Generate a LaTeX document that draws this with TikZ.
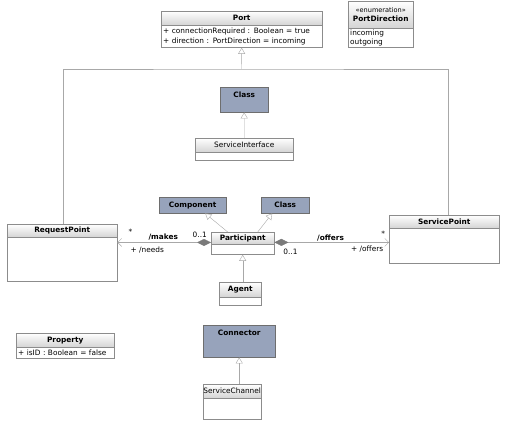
\documentclass[tikz,border=0pt]{standalone}
\usepackage{fontspec}
\setmainfont{DejaVu Sans}
\usepackage{tikz}
\usetikzlibrary{arrows.meta}
\definecolor{linegray}{HTML}{A8A8A8}
\definecolor{boxgray}{HTML}{8C8C8C}
\definecolor{hdrgray}{HTML}{D4D4D4}
\definecolor{darkfill}{HTML}{97A3BB}
\definecolor{darkedge}{HTML}{6E6E6E}
\definecolor{diagray}{HTML}{7A7A7A}
\newcommand\umlfont{\fontsize{7.4}{9.6}\selectfont}
\tikzset{
  hdr/.style={draw=boxgray, top color=white, bottom color=hdrgray, anchor=north west,
    inner sep=0pt, font=\umlfont\bfseries, align=center},
  bdy/.style={draw=boxgray, fill=white, anchor=north west, inner xsep=2bp, inner ysep=0.5bp,
    font=\umlfont, align=left},
  dark/.style={draw=darkedge, fill=darkfill, anchor=north west, inner xsep=0pt, inner ysep=2.5bp,
    font=\umlfont\bfseries, text height=6bp},
  gen/.style={-{Triangle[open, length=6bp, width=7bp]}, draw=linegray, thin},
  assoc/.style={{Diamond[length=14bp, width=7bp, fill=diagray, color=diagray]}-{Straight Barb[length=4bp, width=8bp]}, draw=linegray, thin},
  lbl/.style={font=\umlfont, inner sep=1bp},
}

\begin{document}
\begin{tikzpicture}[x=1bp,y=-1bp]
  \useasboundingbox (0,0) rectangle (507,421);
  % Port and its enumeration
  \node[hdr, minimum width=161bp, minimum height=14bp] (port) at (161,11) {Port};
  \node[bdy, text width=157bp, minimum height=22bp] (port-b) at (port.south west)
    {+ connectionRequired : Boolean = true\\+ direction : PortDirection = incoming};
  \node[hdr, minimum width=65bp, minimum height=27bp, font=\umlfont] (pdir) at (348,1)
    {{\fontsize{6.6}{8}\selectfont\guillemotleft enumeration\guillemotright}\\\textbf{PortDirection}};
  \node[bdy, text width=61bp, minimum height=19bp] (pdir-b) at (pdir.south west) {incoming\\outgoing};
  % interface
  \node[dark, minimum width=48bp, minimum height=25bp, text depth=11bp] (cls1) at (220,87) {Class};
  \node[hdr, minimum width=98bp, minimum height=14bp, font=\umlfont] (si) at (195,138) {ServiceInterface};
  \node[bdy, minimum width=98bp, minimum height=8bp] (si-b) at (si.south west) {};
  % participant and its parents
  \node[dark, minimum width=67bp, minimum height=16bp, text depth=2bp] (comp) at (159,197) {Component};
  \node[dark, minimum width=48bp, minimum height=16bp, text depth=2bp] (cls2) at (261,197) {Class};
  \node[hdr, minimum width=63bp, minimum height=12bp] (part) at (211,232) {Participant};
  \node[bdy, minimum width=63bp, minimum height=10bp] (part-b) at (part.south west) {};
  \node[hdr, minimum width=42bp, minimum height=15bp] (agent) at (219,282) {Agent};
  \node[bdy, minimum width=42bp, minimum height=8bp] (agent-b) at (agent.south west) {};
  % ports
  \node[hdr, minimum width=110bp, minimum height=13bp] (reqp) at (7,224) {RequestPoint};
  \node[bdy, minimum width=110bp, minimum height=44bp] (reqp-b) at (reqp.south west) {};
  \node[hdr, minimum width=110bp, minimum height=13bp] (svcp) at (389,215) {ServicePoint};
  \node[bdy, minimum width=110bp, minimum height=35bp] (svcp-b) at (svcp.south west) {};
  % bottom row
  \node[hdr, minimum width=98bp, minimum height=14bp] (prop) at (16,333) {Property};
  \node[bdy, text width=94bp, minimum height=11bp] (prop-b) at (prop.south west) {+ isID : Boolean = false};
  \node[dark, minimum width=72bp, minimum height=32bp, text depth=18bp] (conn) at (203,325) {Connector};
  \node[hdr, minimum width=58bp, minimum height=14bp, font=\umlfont] (sch) at (203,384) {ServiceChannel};
  \node[bdy, minimum width=58bp, minimum height=21bp] (sch-b) at (sch.south west) {};

  % generalizations
  \coordinate (bar) at (241.5,69);
  \draw[gen] (bar) -- (port-b.south);
  \draw[linegray, thin] ([xshift=1bp]reqp.north) |- (bar) -| ([xshift=4bp]svcp.north);
  \draw[gen] (si.north) -- (cls1.south);
  \draw[gen] ([xshift=-15bp]part.north) -- ([xshift=12.5bp]comp.south);
  \draw[gen] ([xshift=15bp]part.north) -- ([xshift=-13bp]cls2.south);
  \draw[gen] (part-b.south |- agent.north) -- (part-b.south);
  \draw[gen] (sch.north -| conn.south) -- (conn.south);

  % associations
  \draw[assoc] ([yshift=2bp]part.south west) -- ([yshift=2bp]part.south west -| reqp-b.east)
    node[lbl, pos=0.12, above=4bp, anchor=south] (m-mult) {0..1}
    node[lbl, pos=0.51, above=1bp, anchor=south, font=\umlfont\bfseries] (m-name) {/makes}
    node[lbl, pos=0.86, above=7bp, anchor=south] (m-star) {*}
    node[lbl, pos=0.68, below=3bp, anchor=north] (m-role) {+ /needs};
  \draw[assoc] ([yshift=2bp]part.south east) -- ([yshift=2bp]part.south east -| svcp-b.west)
    node[lbl, pos=0.14, below=5bp, anchor=north] (o-mult) {0..1}
    node[lbl, pos=0.49, above=0.5bp, anchor=south, font=\umlfont\bfseries] (o-name) {/offers}
    node[lbl, pos=0.95, above=5bp, anchor=south] (o-star) {*}
    node[lbl, pos=0.81, below=2bp, anchor=north] (o-role) {+ /offers};
\end{tikzpicture}
\end{document}
